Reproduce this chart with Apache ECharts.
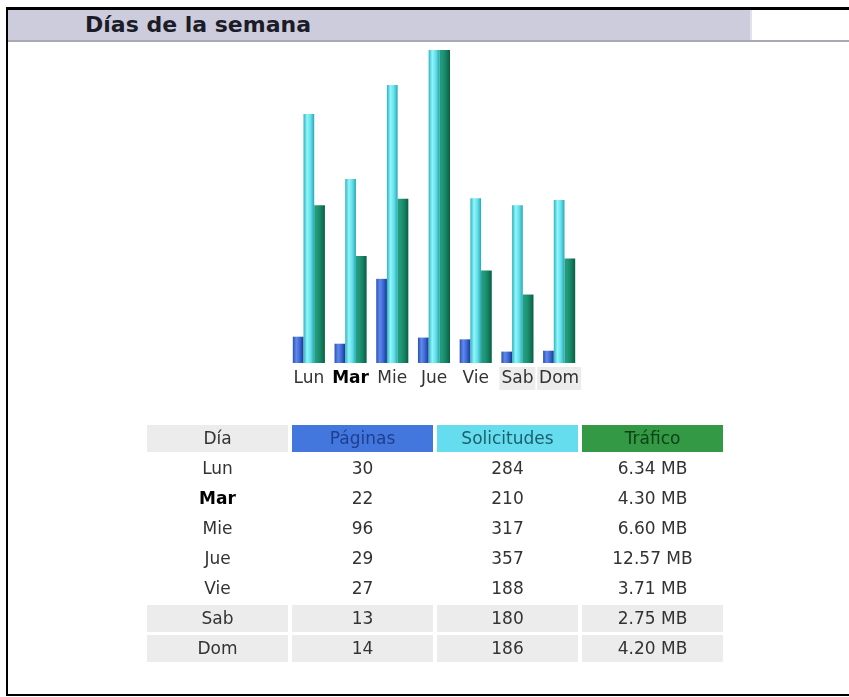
<!DOCTYPE html>
<html>
<head>
<meta charset="utf-8">
<script src="https://cdn.jsdelivr.net/npm/echarts@6/dist/echarts.min.js"></script>
<style>
  html, body { margin: 0; padding: 0; background: #fff; overflow: hidden; }
  body { width: 849px; height: 697px; position: relative; font-family: "DejaVu Sans", Verdana, sans-serif; }
  #frame { position: absolute; left: 6px; top: 7px; width: 900px; height: 684px;
           border-top: 3px solid #000; border-left: 2px solid #000; border-bottom: 2px solid #000; }
  #band { position: absolute; left: 0; top: 0; width: 900px; height: 30px; border-bottom: 2px solid #a9a9b2; }
  #bandFill { position: absolute; left: 0; top: 0; width: 742px; height: 30px; background: #ccccdd; border-right: 2px solid #e2e2ea; }
  #title { position: absolute; left: 77px; top: 0; line-height: 30px; font-size: 22px; font-weight: bold; color: #1c1c28; }
  #chart { position: absolute; left: 0; top: 0; width: 849px; height: 697px; }
  #tbl { position: absolute; left: 143px; top: 422px; border-collapse: separate; border-spacing: 4px 3px; }
  #tbl td { width: 141px; height: 27px; padding: 0; text-align: center; font-size: 17px; color: #333; line-height: 27px; }
  #tbl td.gris { background: #ececec; }
  #tbl .hp { background: #4477dd; color: #1d3f8f; }
  #tbl .hh { background: #66ddee; color: #1b5f6c; }
  #tbl .hk { background: #339944; color: #0f4019; }
  #tbl .hoy { font-weight: bold; color: #000; }
</style>
</head>
<body>
<div id="frame">
  <div id="band"><div id="bandFill"></div><div id="title">Días de la semana</div></div>
</div>
<div id="chart"></div>
<table id="tbl"></table>
<script>
var dias = ['Lun', 'Mar', 'Mie', 'Jue', 'Vie', 'Sab', 'Dom'];
var paginas = [30, 22, 96, 29, 27, 13, 14];
var solicitudes = [284, 210, 317, 357, 188, 180, 186];
var trafico = [6.34, 4.30, 6.60, 12.57, 3.71, 2.75, 4.20];
var hoy = 'Mar';
var finde = ['Sab', 'Dom'];
var cabecera = ['Día', 'Páginas', 'Solicitudes', 'Tráfico'];

// table below the chart
var html = '<tr><td class="gris">' + cabecera[0] + '</td><td class="hp">' + cabecera[1] +
    '</td><td class="hh">' + cabecera[2] + '</td><td class="hk">' + cabecera[3] + '</td></tr>';
for (var i = 0; i < dias.length; i++) {
    var cls = finde.indexOf(dias[i]) >= 0 ? ' class="gris"' : '';
    var dia = dias[i] === hoy ? '<span class="hoy">' + dias[i] + '</span>' : dias[i];
    html += '<tr><td' + cls + '>' + dia + '</td><td' + cls + '>' + paginas[i] + '</td><td' + cls + '>' +
        solicitudes[i] + '</td><td' + cls + '>' + trafico[i].toFixed(2) + ' MB</td></tr>';
}
document.getElementById('tbl').innerHTML = html;

var myChart = echarts.init(document.getElementById('chart'));

function grad(stops) {
    return new echarts.graphic.LinearGradient(0, 0, 1, 0, stops.map(function (c, k) {
        return { offset: k / (stops.length - 1), color: c };
    }));
}

var labelRich = {
    n: { fontSize: 17, color: '#333', lineHeight: 21, padding: [3, 2] },
    b: { fontSize: 17, color: '#000', fontWeight: 'bold', lineHeight: 21, padding: [3, 2] },
    w: { fontSize: 17, color: '#333', lineHeight: 21, padding: [3, 2], backgroundColor: '#ececec' }
};

var option = {
    animation: false,
    grid: { left: 288, top: 50, width: 292, height: 313 },
    xAxis: {
        type: 'category',
        data: dias,
        axisLine: { show: false },
        axisTick: { show: false },
        axisLabel: {
            interval: 0,
            hideOverlap: false,
            margin: 5,
            fontFamily: 'DejaVu Sans',
            formatter: function (v) {
                if (v === hoy) return '{b|' + v + '}';
                if (finde.indexOf(v) >= 0) return '{w|' + v + '}';
                return '{n|' + v + '}';
            },
            rich: labelRich
        }
    },
    yAxis: [
        { type: 'value', show: false, min: 0, max: Math.max.apply(null, solicitudes), splitLine: { show: false } },
        { type: 'value', show: false, min: 0, max: Math.max.apply(null, trafico), splitLine: { show: false } }
    ],
    series: [
        {
            name: 'Páginas', type: 'bar', yAxisIndex: 0, barWidth: 10.7, barGap: '0%',
            itemStyle: { color: grad(['#2a50b4', '#5f8aea', '#3c66d4', '#1b358c']) },
            data: paginas
        },
        {
            name: 'Solicitudes', type: 'bar', yAxisIndex: 0, barWidth: 10.7, barGap: '0%',
            itemStyle: { color: grad(['#2eb2bd', '#92f5fb', '#62e0ea', '#29a6b3']) },
            data: solicitudes
        },
        {
            name: 'Tráfico', type: 'bar', yAxisIndex: 1, barWidth: 10.7, barGap: '0%',
            itemStyle: { color: grad(['#22a07f', '#1f9677', '#147f5f', '#0a5d43']) },
            data: trafico
        }
    ]
};

myChart.setOption(option);
</script>
</body>
</html>
